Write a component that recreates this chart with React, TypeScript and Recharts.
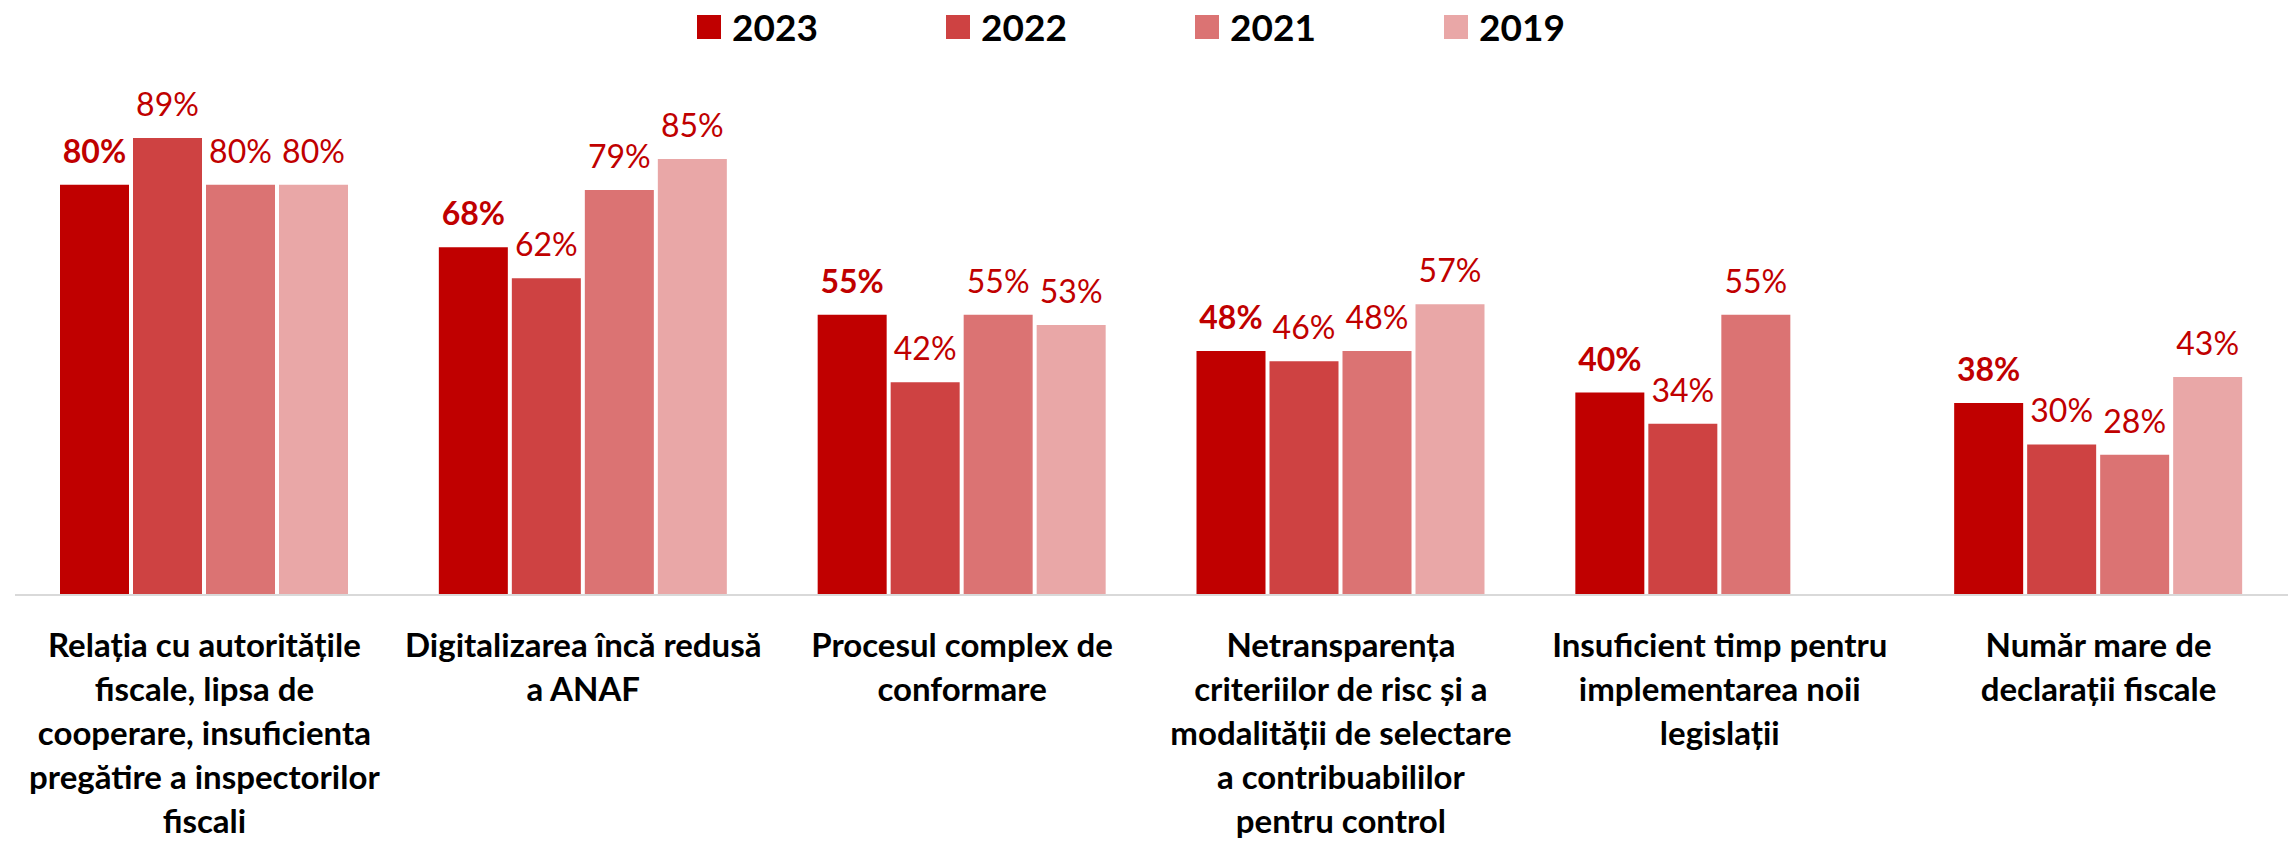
import { BarChart, Bar, XAxis, YAxis, Legend, LabelList } from 'recharts';

// categories (line breaks as in the original chart)
const categories = [
  'Relația cu autoritățile\nfiscale, lipsa de\ncooperare, insuficienta\npregătire a inspectorilor\nfiscali',
  'Digitalizarea încă redusă\na ANAF',
  'Procesul complex de\nconformare',
  'Netransparența\ncriteriilor de risc și a\nmodalității de selectare\na contribuabililor\npentru control',
  'Insuficient timp pentru\nimplementarea noii\nlegislații',
  'Număr mare de\ndeclarații fiscale',
];

const values2023 = [80, 68, 55, 48, 40, 38];
const values2022 = [89, 62, 42, 46, 34, 30];
const values2021 = [80, 79, 55, 48, 55, 28];
const values2019: (number | null)[] = [80, 85, 53, 57, null, 43];

const seriesNames = ['2023', '2022', '2021', '2019'];
const seriesColors = ['#C00000', '#CE4242', '#DB7373', '#E9A7A7'];

const chartData = categories.map((name, i) => ({
  name,
  y2023: values2023[i],
  y2022: values2022[i],
  y2021: values2021[i],
  y2019: values2019[i],
}));

const FONT = 'Lato, "Open Sans", sans-serif';

const CategoryTick = ({ x, y, payload }: any) => {
  const lines = String(payload.value).split('\n');
  return (
    <text x={x} y={y} textAnchor="middle" fontFamily={FONT} fontWeight={700} fontSize={33} fill="#000">
      {lines.map((line, i) => (
        <tspan key={i} x={x} dy={i === 0 ? 62 : 44}>
          {line}
        </tspan>
      ))}
    </text>
  );
};

const renderLegend = () => (
  <div style={{ display: 'flex', paddingLeft: 697, fontFamily: FONT }}>
    {seriesNames.map((name, i) => (
      <div key={name} style={{ display: 'flex', alignItems: 'center', width: 249 }}>
        <span style={{ display: 'inline-block', width: 24, height: 24, background: seriesColors[i], marginRight: 11 }} />
        <span style={{ fontSize: 37, fontWeight: 700, lineHeight: 1, color: '#000' }}>{name}</span>
      </div>
    ))}
  </div>
);

const keys = ['y2023', 'y2022', 'y2021', 'y2019'];

export default function App() {
  return (
    <div style={{ position: 'absolute', left: 0, top: 0, background: '#fff', fontFamily: FONT }}>
      <BarChart
        width={2295}
        height={845}
        data={chartData}
        margin={{ top: 81, right: 7, left: 15, bottom: 0 }}
        barSize={69}
        barGap={4}
      >
        <XAxis
          dataKey="name"
          height={250}
          interval={0}
          tickLine={false}
          tickSize={0}
          tickMargin={0}
          axisLine={{ stroke: '#D9D9D9', strokeWidth: 2 }}
          tick={<CategoryTick />}
        />
        <YAxis hide type="number" domain={[1, 100]} />
        <Legend
          verticalAlign="middle"
          content={renderLegend}
          wrapperStyle={{ position: 'absolute', top: 8, left: 0, width: 2295 }}
        />
        {keys.map((k, i) => (
          <Bar key={k} dataKey={k} name={seriesNames[i]} fill={seriesColors[i]} isAnimationActive={false}>
            <LabelList
              dataKey={k}
              position="top"
              offset={22}
              formatter={(v: any) => (v == null ? '' : `${v}%`)}
              fill="#C00000"
              fontSize={32}
              fontWeight={i === 0 ? 700 : 400}
              fontFamily={FONT}
            />
          </Bar>
        ))}
      </BarChart>
    </div>
  );
}
